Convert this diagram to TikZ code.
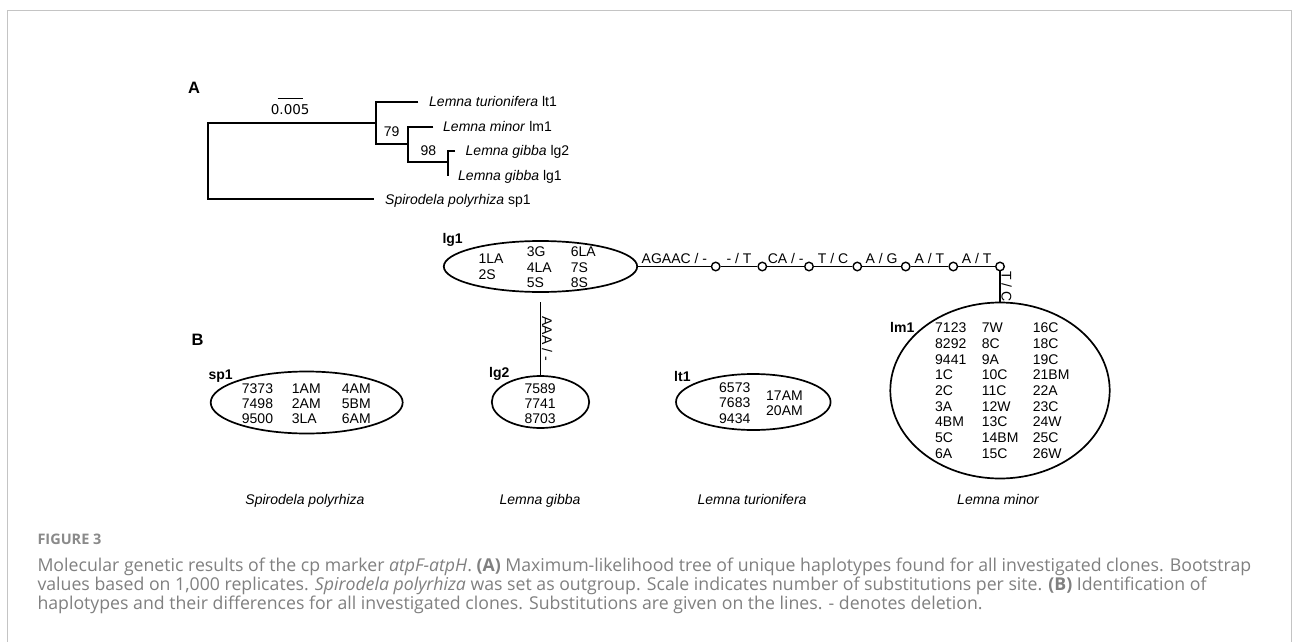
\documentclass[tikz,border=0pt]{standalone}
\usepackage{fontspec}
\setmainfont{Liberation Sans}
\newfontfamily\capfont{Open Sans}
\newfontfamily\scalefont{DejaVu Sans}
\usetikzlibrary{shapes.geometric}
\definecolor{framegray}{HTML}{C4C4C4}
\definecolor{capgray}{HTML}{808080}
\definecolor{figgray}{HTML}{8A8A8A}
\begin{document}
\begin{tikzpicture}[x=1pt,y=-1pt,
  tx/.style={font=\fontsize{14}{16}\selectfont, inner sep=0pt},
  lbl/.style={font=\bfseries\fontsize{14}{16}\selectfont, inner sep=0pt, anchor=base west},
  panel/.style={font=\bfseries\fontsize{16.5}{18}\selectfont, inner sep=0pt, anchor=base west},
  hap/.style={ellipse, draw, line width=1.7pt, inner sep=0pt},
  mut/.style={circle, draw, fill=white, line width=1.4pt, inner sep=0pt, minimum size=8.5pt},
  br/.style={line width=1.8pt},
  link/.style={line width=1.8pt},
  elab/.style={midway, above, inner sep=1.5pt, font=\fontsize{14}{16}\selectfont},
  vlab/.style={midway, rotate=-90, anchor=south, inner sep=0.5pt, font=\fontsize{14}{16}\selectfont},
  captext/.style={font=\capfont\fontsize{17.7}{19}\selectfont, text=capgray, inner sep=0pt, anchor=base west}
]
\useasboundingbox (0,0) rectangle (1293,642);
\fill[white] (0,0) rectangle (1293,642);
% frame
\draw[framegray, line width=1.5pt] (7.5,642) -- (7.5,10.5) -- (1291.5,10.5) -- (1291.5,642);

% ---------------- Panel A: tree ----------------
\node[panel] (pA) at (188,93) {A};
\coordinate (sbL) at (277.7,98.3);
\coordinate (sbR) at (302.7,98.3);
\draw[line width=1.4pt] (sbL) -- (sbR);
\node[font=\scalefont\fontsize{13.5}{16}\selectfont, inner sep=0pt, anchor=base] (sblab) at (290.2,114) {0.005};

\coordinate (nR) at (207.7,161.3);
\coordinate (n79) at (375.7,123.3);
\coordinate (nsub) at (408.3,144.3);
\coordinate (n98) at (447.7,162);
\coordinate (tiplt1) at (418.3,101.7);
\coordinate (tiplm1) at (433.3,126.7);
\coordinate (tiplg2) at (455,150.7);
\coordinate (tiplg1) at (447.7,175.5);
\coordinate (tipsp1) at (374,199.3);

\draw[br] (tiplt1) -| (n79) |- (nsub);
\draw[br] (tiplm1) -| (nsub) |- (n98);
\draw[br] (tiplg2) -| (n98) |- (tiplg1);
\draw[br] (n79) -| (nR) |- (tipsp1);

\node[tx, anchor=base west] (tlt1) at (429,106.7) {\textit{Lemna turionifera} lt1};
\node[tx, anchor=base west] (tlm1) at (443,131.7) {\textit{Lemna minor} lm1};
\node[tx, anchor=base west] (tlg2) at (465.5,155.7) {\textit{Lemna gibba} lg2};
\node[tx, anchor=base west] (tlg1) at (458,180) {\textit{Lemna gibba} lg1};
\node[tx, anchor=base west] (tsp1) at (385,204.3) {\textit{Spirodela polyrhiza} sp1};
\node[tx, anchor=base] (b79) at (391.7,136.7) {79};
\node[tx, anchor=base] (b98) at (428.3,155.7) {98};

% ---------------- Panel B: network ----------------
\node[panel] (pB) at (191.5,345.7) {B};

% lg1
\node[hap, minimum width=193.4pt, minimum height=51pt] (lg1) at (540.5,266.5) {};
\node[lbl] (lg1lab) at (442.3,243.3) {lg1};
\node[tx, anchor=base west] (g1a) at (478.3,263.3) {1LA};
\node[tx, anchor=base west] (g1b) at (478.3,279) {2S};
\node[tx, anchor=base west] (g1c) at (526.7,256.7) {3G};
\node[tx, anchor=base west] (g1d) at (526.7,272.3) {4LA};
\node[tx, anchor=base west] (g1e) at (526.7,287.7) {5S};
\node[tx, anchor=base west] (g1f) at (570.7,256.7) {6LA};
\node[tx, anchor=base west] (g1g) at (570.7,272.3) {7S};
\node[tx, anchor=base west] (g1h) at (570.7,287.7) {8S};

% mutation steps
\node[mut] (c1) at (715.7,266.5) {};
\node[mut] (c2) at (762.3,266.5) {};
\node[mut] (c3) at (809,266.5) {};
\node[mut] (c4) at (857.3,266.5) {};
\node[mut] (c5) at (905.7,266.5) {};
\node[mut] (c6) at (953.3,266.5) {};
\node[mut] (c7) at (1000,266.5) {};

% lm1
\node[hap, minimum width=219.4pt, minimum height=176pt] (lm1) at (1000,390.5) {};
\node[lbl] (lm1lab) at (890,332.7) {lm1};

\draw[link] (lg1.east) -- node[elab] {AGAAC / -} (c1)
  -- node[elab] {- / T} (c2)
  -- node[elab] {CA / -} (c3)
  -- node[elab] {T / C} (c4)
  -- node[elab] {A / G} (c5)
  -- node[elab] {A / T} (c6)
  -- node[elab] {A / T} (c7);
\draw[link] (c7) -- node[vlab] {T / C} (lm1.north);

\foreach \t [count=\i from 0] in {7123,8292,9441,1C,2C,3A,4BM,5C,6A}
  \node[tx, anchor=base west] (ma\i) at (935,{332.7+15.7*\i}) {\t};
\foreach \t [count=\i from 0] in {7W,8C,9A,10C,11C,12W,13C,14BM,15C}
  \node[tx, anchor=base west] (mb\i) at (981.7,{332.7+15.7*\i}) {\t};
\foreach \t [count=\i from 0] in {16C,18C,19C,21BM,22A,23C,24W,25C,26W}
  \node[tx, anchor=base west] (mc\i) at (1032.7,{332.7+15.7*\i}) {\t};

% lg2
\node[hap, minimum width=97.4pt, minimum height=52pt] (lg2) at (540.5,402) {};
\coordinate (lg1gap) at ([yshift=-9.5pt]lg1.south);
\draw[link] (lg1gap) -- node[vlab] {AAA / -} (lg2.north);
\node[lbl] (lg2lab) at (489,377.3) {lg2};
\node[tx, anchor=base west] (g2a) at (524.3,393.3) {7589};
\node[tx, anchor=base west] (g2b) at (524.3,408.3) {7741};
\node[tx, anchor=base west] (g2c) at (524.3,423.3) {8703};

% sp1
\node[hap, minimum width=192pt, minimum height=62pt] (sp1) at (306.7,402.5) {};
\node[lbl] (sp1lab) at (208.3,379.3) {sp1};
\node[tx, anchor=base west] (s1) at (241.7,393.3) {7373};
\node[tx, anchor=base west] (s2) at (241.7,408.3) {7498};
\node[tx, anchor=base west] (s3) at (241.7,423.3) {9500};
\node[tx, anchor=base west] (s4) at (291.7,393.3) {1AM};
\node[tx, anchor=base west] (s5) at (291.7,408.3) {2AM};
\node[tx, anchor=base west] (s6) at (291.7,423.3) {3LA};
\node[tx, anchor=base west] (s7) at (341.7,393.3) {4AM};
\node[tx, anchor=base west] (s8) at (341.7,408.3) {5BM};
\node[tx, anchor=base west] (s9) at (341.7,423.3) {6AM};

% lt1
\node[hap, minimum width=154.6pt, minimum height=56pt] (lt1) at (753.3,402) {};
\node[lbl] (lt1lab) at (674,381) {lt1};
\node[tx, anchor=base west] (t1) at (719,392.3) {6573};
\node[tx, anchor=base west] (t2) at (719,407.3) {7683};
\node[tx, anchor=base west] (t3) at (719,423.3) {9434};
\node[tx, anchor=base west] (t4) at (766,400) {17AM};
\node[tx, anchor=base west] (t5) at (766,415) {20AM};

% species names
\node[tx, anchor=base] (nsp) at (305,504.5) {\textit{Spirodela polyrhiza}};
\node[tx, anchor=base] (ngi) at (540,504.5) {\textit{Lemna gibba}};
\node[tx, anchor=base] (ntu) at (752,504.5) {\textit{Lemna turionifera}};
\node[tx, anchor=base] (nmi) at (998.3,504.5) {\textit{Lemna minor}};

% ---------------- caption ----------------
\node[font=\capfont\bfseries\fontsize{14.5}{16}\selectfont, text=figgray, inner sep=0pt, anchor=base west] (fig) at (37.3,544.3) {FIGURE 3};
\node[captext] (cap1) at (37.3,571.7) {Molecular genetic results of the cp marker \textit{atpF-atpH}. \textbf{(A)} Maximum-likelihood tree of unique haplotypes found for all investigated clones. Bootstrap};
\node[captext] (cap2) at (37.3,590.5) {values based on 1,000 replicates. \textit{Spirodela polyrhiza} was set as outgroup. Scale indicates number of substitutions per site. \textbf{(B)} Identification of};
\node[captext] (cap3) at (37.3,609.2) {haplotypes and their differences for all investigated clones. Substitutions are given on the lines. - denotes deletion.};
\end{tikzpicture}
\end{document}
